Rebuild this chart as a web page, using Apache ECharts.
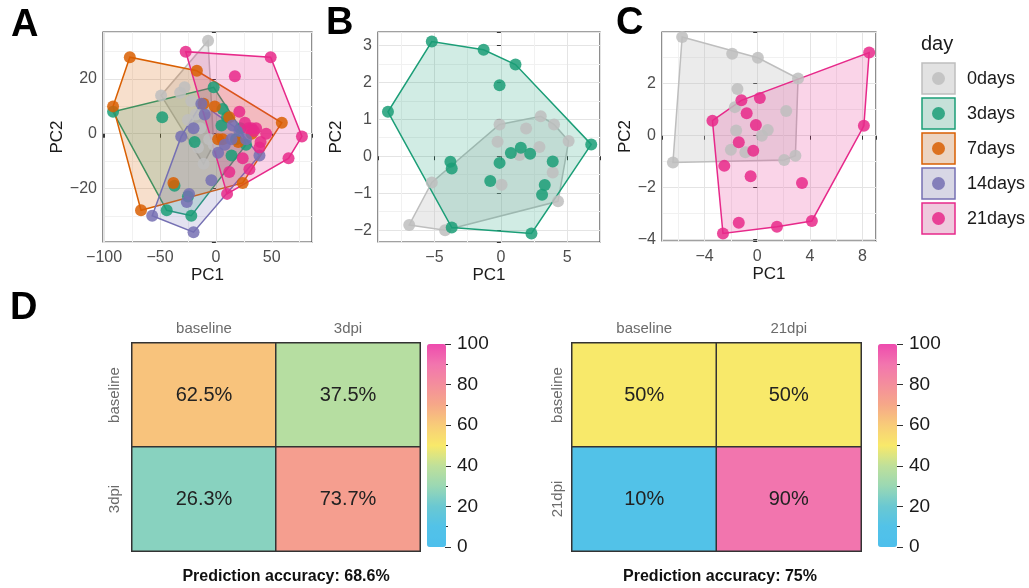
<!DOCTYPE html>
<html>
<head>
<meta charset="utf-8">
<title>PCA by day and prediction accuracy</title>
<script src="https://cdn.jsdelivr.net/npm/echarts@6/dist/echarts.min.js"></script>
<style>
  html, body { margin: 0; padding: 0; background: #fff; }
  #chart { width: 1029px; height: 588px; }
</style>
</head>
<body>
<div id="chart"></div>
<script>
// groups (legend "day")
var dayNames = ['0days', '3days', '7days', '14days', '21days'];
var dayColors = ['#BEBEBE', '#1B9E77', '#D95F02', '#7570B3', '#E7298A'];

// panel A: all five days, [PC1, PC2]
var a0days = [[-7, 34], [-49, 14], [-11, -11], [-2, -4], [-28, 17], [-32, 15], [-22, 12], [-18, 7], [-14, 2], [-8, 10], [-25, 5], [-6, -2], [-16, -5]];
var a3days = [[-92, 8], [-2, 17], [-48, 6], [6, 9], [10, 6], [5, 3], [-19, -3], [14, -8], [27, -4], [22, 2], [-37, -19], [-25, -23], [-44, -28], [-22, -30], [18, -2]];
var a7days = [[-77, 28], [-92, 10], [-17, 23], [59, 4], [24, -18], [-67, -28], [-38, -18], [-1, 10], [-11, 11], [6, -2], [12, 6], [32, 0], [2, -2], [20, -3]];
var a14days = [[-57, -30], [-20, -36], [-26, -25], [-4, -17], [-31, -1], [-20, 2], [-13, 11], [-10, 7], [2, -7], [15, 3], [21, 1], [14, -2], [39, -8], [27, -2], [-24, -22], [8, -4]];
var a21days = [[-27, 30], [49, 28], [17, 21], [77, -1], [65, -9], [10, -22], [30, -13], [12, -14], [21, 8], [32, 2], [36, 2], [45, 0], [39, -5], [29, 2], [26, 4], [34, 1], [40, -3], [24, -9]];

// panel B: 0days vs 3days
var b0days = [[-0.1, 0.86], [3.0, 1.08], [4.0, 0.86], [1.9, 0.75], [5.1, 0.41], [-0.25, 0.39], [2.9, 0.25], [1.4, 0.03], [3.9, -0.44], [0.05, -0.77], [-5.2, -0.71], [4.3, -1.22], [-6.9, -1.86], [-4.2, -2.0]];
var b3days = [[-5.2, 3.1], [-1.3, 2.88], [1.1, 2.48], [-0.1, 1.92], [-8.5, 1.2], [6.8, 0.32], [-3.8, -0.15], [-3.7, -0.33], [0.75, 0.09], [1.5, 0.23], [2.2, 0.07], [-0.1, -0.18], [3.9, -0.14], [-0.8, -0.67], [3.3, -0.78], [3.1, -1.04], [-3.7, -1.93], [2.3, -2.09]];

// panel C: 0days vs 21days
var c0days = [[-5.7, 3.8], [-1.9, 3.15], [0.05, 3.0], [3.1, 2.2], [-1.5, 1.8], [-1.7, 1.1], [2.2, 0.95], [-1.6, 0.2], [0.8, 0.22], [0.35, 0], [-2.0, -0.54], [-0.9, -0.64], [-6.4, -1.03], [2.05, -0.93], [2.9, -0.77]];
var c21days = [[8.5, 3.2], [8.1, 0.38], [4.15, -3.28], [1.5, -3.5], [-2.6, -3.76], [-1.4, -3.35], [-3.4, 0.58], [-1.2, 1.36], [0.2, 1.45], [-0.8, 0.86], [-0.1, 0.41], [-1.4, -0.25], [-0.3, -0.58], [-2.5, -1.16], [-0.5, -1.56], [3.4, -1.82]];

// panel D: confusion matrices (rows top to bottom)
var d1Cols = ['baseline', '3dpi'];
var d1Rows = ['baseline', '3dpi'];
var d1Vals = [[62.5, 37.5], [26.3, 73.7]];
var d1Title = 'Prediction accuracy: 68.6%';
var d2Cols = ['baseline', '21dpi'];
var d2Rows = ['baseline', '21dpi'];
var d2Vals = [[50, 50], [10, 90]];
var d2Title = 'Prediction accuracy: 75%';

var heatColors = ['#4DBFEC', '#52C2E8', '#6AC8D2', '#9AD8B4', '#BFE09A', '#F8E96A', '#F8CC78', '#F6A888', '#F48E9C', '#F275AE', '#EE4BAE'];
var FONT = '"Liberation Sans", Arial, sans-serif';

function rgba(hex, a) {
  var n = parseInt(hex.slice(1), 16);
  return 'rgba(' + (n >> 16) + ',' + ((n >> 8) & 255) + ',' + (n & 255) + ',' + a + ')';
}

function convexHull(pts) {
  var p = pts.slice().sort(function (a, b) { return a[0] - b[0] || a[1] - b[1]; });
  function cross(o, a, b) { return (a[0] - o[0]) * (b[1] - o[1]) - (a[1] - o[1]) * (b[0] - o[0]); }
  var lower = [], upper = [];
  p.forEach(function (q) {
    while (lower.length >= 2 && cross(lower[lower.length - 2], lower[lower.length - 1], q) <= 0) lower.pop();
    lower.push(q);
  });
  for (var i = p.length - 1; i >= 0; i--) {
    var q = p[i];
    while (upper.length >= 2 && cross(upper[upper.length - 2], upper[upper.length - 1], q) <= 0) upper.pop();
    upper.push(q);
  }
  upper.pop(); lower.pop();
  return lower.concat(upper);
}

function minus(v) { return String(v).replace('-', '\u2212'); }

function pcaAxis(idx, dim, lo, hi, step, gap) {
  var ax = {
    gridIndex: idx, type: 'value', min: lo, max: hi,
    minInterval: step, maxInterval: step,
    name: dim === 'x' ? 'PC1' : 'PC2',
    nameLocation: 'middle', nameGap: gap,
    nameTextStyle: { fontSize: 17, color: '#1a1a1a', fontFamily: FONT },
    axisLine: { show: false },
    axisTick: { show: true, length: 4, lineStyle: { color: '#333' } },
    axisLabel: {
      fontSize: 16, color: '#4d4d4d', fontFamily: FONT, margin: dim === 'x' ? 8 : 6,
      formatter: function (v) {
        var r = v / step;
        if (Math.abs(r - Math.round(r)) > 1e-6) return '';
        return minus(Math.round(r) * step);
      }
    },
    splitLine: { show: true, lineStyle: { color: '#E4E4E4', width: 1 } },
    minorTick: { show: false, splitNumber: 2 },
    minorSplitLine: { show: true, lineStyle: { color: '#F1F1F1', width: 1 } }
  };
  if (dim === 'y') ax.nameRotate = 90;
  return ax;
}

var grids = [
  { left: 103, top: 32, width: 209, height: 210 },
  { left: 378, top: 32, width: 222, height: 210 },
  { left: 662, top: 32, width: 214, height: 209 },
  { left: 132, top: 343, width: 288, height: 208 },
  { left: 572, top: 343, width: 289, height: 208 },
  { left: 445, top: 344, width: 1, height: 203 },
  { left: 897, top: 344, width: 1, height: 203 }
];
grids.slice(0, 3).forEach(function (g) {
  g.show = true; g.borderColor = '#444'; g.borderWidth = 1.2; g.backgroundColor = '#fff';
});

var xAxes = [
  pcaAxis(0, 'x', -101, 86, 50, 20),
  pcaAxis(1, 'x', -9.25, 7.46, 5, 20),
  pcaAxis(2, 'x', -7.23, 9.02, 4, 20)
];
var yAxes = [
  pcaAxis(0, 'y', -39.6, 37.2, 20, 32),
  pcaAxis(1, 'y', -2.32, 3.36, 1, 33),
  pcaAxis(2, 'y', -4.05, 3.99, 2, 27)
];

function heatAxes(idx, cols, rows) {
  xAxes.push({
    gridIndex: idx, type: 'category', position: 'top', data: cols,
    axisLine: { show: false }, axisTick: { show: false },
    axisLabel: { fontSize: 15, color: '#6b6b6b', fontFamily: FONT, margin: 7 },
    splitLine: { show: false }
  });
  yAxes.push({
    gridIndex: idx, type: 'category', inverse: true, data: rows,
    axisLine: { show: false }, axisTick: { show: false },
    axisLabel: { fontSize: 15, color: '#6b6b6b', fontFamily: FONT, rotate: 90, margin: idx === 3 ? 10 : 7 },
    splitLine: { show: false }
  });
}
heatAxes(3, d1Cols, d1Rows);
heatAxes(4, d2Cols, d2Rows);

function barAxes(idx) {
  xAxes.push({ gridIndex: idx, type: 'value', show: false });
  yAxes.push({
    gridIndex: idx, type: 'value', min: 0, max: 100, interval: 20, position: 'right',
    axisLine: { show: false },
    axisTick: { show: true, length: 6, lineStyle: { color: '#333' } },
    minorTick: { show: true, splitNumber: 2, length: 3, lineStyle: { color: '#333' } },
    axisLabel: { fontSize: 19, color: '#1a1a1a', fontFamily: FONT, margin: 11 },
    splitLine: { show: false }
  });
}
barAxes(5);
barAxes(6);

function heatData(vals) {
  var out = [];
  vals.forEach(function (row, r) {
    row.forEach(function (v, c) { out.push([c, r, v]); });
  });
  return out;
}

function heatSeries(idx, vals) {
  return {
    type: 'heatmap', xAxisIndex: idx, yAxisIndex: idx, data: heatData(vals),
    label: { show: true, fontSize: 20, color: '#222', fontFamily: FONT, formatter: function (p) { return p.value[2] + '%'; } },
    itemStyle: { borderColor: '#333', borderWidth: 1.5 },
    emphasis: { disabled: true }
  };
}

var series = [heatSeries(3, d1Vals), heatSeries(4, d2Vals)];

function hullSeries(idx, pts, color) {
  var hull = convexHull(pts);
  return {
    type: 'custom', xAxisIndex: idx, yAxisIndex: idx, silent: true, z: 2,
    data: [hull[0]],
    renderItem: function (params, api) {
      var shape = hull.map(function (p) { return api.coord(p); });
      return {
        type: 'polygon', shape: { points: shape },
        style: { fill: rgba(color, color === '#BEBEBE' ? 0.3 : 0.2), stroke: color, lineWidth: 1.5 }
      };
    }
  };
}

function pointSeries(idx, pts, color) {
  return {
    type: 'scatter', xAxisIndex: idx, yAxisIndex: idx, data: pts, z: 3,
    symbolSize: 12, itemStyle: { color: color, opacity: 0.85 }, silent: true
  };
}

var panels = [
  { idx: 0, groups: [[a0days, 0], [a3days, 1], [a7days, 2], [a14days, 3], [a21days, 4]] },
  { idx: 1, groups: [[b0days, 0], [b3days, 1]] },
  { idx: 2, groups: [[c0days, 0], [c21days, 4]] }
];
panels.forEach(function (p) {
  p.groups.forEach(function (g) { series.push(hullSeries(p.idx, g[0], dayColors[g[1]])); });
  p.groups.forEach(function (g) { series.push(pointSeries(p.idx, g[0], dayColors[g[1]])); });
});

var graphics = [];
[['A', 11, 26], ['B', 326, 24], ['C', 616, 24], ['D', 10, 309]].forEach(function (l) {
  graphics.push({ type: 'text', x: l[1], y: l[2], style: { text: l[0], font: 'bold 38px ' + FONT, fill: '#000', verticalAlign: 'middle' } });
});
graphics.push({ type: 'text', x: 286, y: 577, style: { text: d1Title, font: 'bold 16px ' + FONT, fill: '#111', align: 'center', verticalAlign: 'middle' } });
graphics.push({ type: 'text', x: 720, y: 577, style: { text: d2Title, font: 'bold 16px ' + FONT, fill: '#111', align: 'center', verticalAlign: 'middle' } });

// legend "day"
graphics.push({ type: 'text', x: 921, y: 44, style: { text: 'day', font: '20px ' + FONT, fill: '#1a1a1a', verticalAlign: 'middle' } });
dayNames.forEach(function (name, i) {
  var top = 63 + i * 35;
  var c = dayColors[i];
  graphics.push({ type: 'rect', shape: { x: 922, y: top, width: 33, height: 31 }, style: { fill: '#F2F2F2' } });
  graphics.push({ type: 'rect', shape: { x: 922, y: top, width: 33, height: 31 }, style: { fill: rgba(c, c === '#BEBEBE' ? 0.3 : 0.2), stroke: c, lineWidth: 1.5 } });
  graphics.push({ type: 'circle', shape: { cx: 938.5, cy: top + 15.5, r: 6.5 }, style: { fill: rgba(c, 0.85) } });
  graphics.push({ type: 'text', x: 967, y: top + 16, style: { text: name, font: '18px ' + FONT, fill: '#1a1a1a', verticalAlign: 'middle' } });
});

function colorBar(seriesIdx, left) {
  return {
    type: 'continuous', min: 0, max: 100, seriesIndex: seriesIdx,
    calculable: false, hoverLink: false, left: left, top: 344, padding: 0,
    itemWidth: 19, itemHeight: 203, inRange: { color: heatColors }
  };
}

var chart = echarts.init(document.getElementById('chart'));
chart.setOption({
  animation: false,
  backgroundColor: '#fff',
  textStyle: { fontFamily: FONT },
  grid: grids,
  xAxis: xAxes,
  yAxis: yAxes,
  visualMap: [colorBar(0, 427), colorBar(1, 878)],
  graphic: graphics,
  series: series
});
</script>
</body>
</html>
